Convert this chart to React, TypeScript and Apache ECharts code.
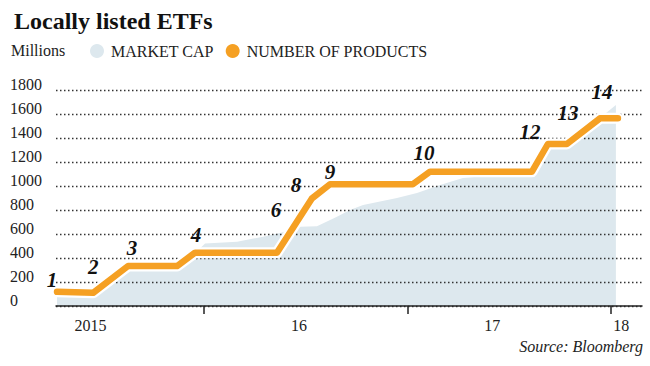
import React, { useEffect, useRef } from "react";
import * as echarts from "echarts";

// x values are months counted from January 2015
const xMin = 3.27;
const xMax = 37.83;
const yearTicks = [12, 24, 36];
const xLabelMonths = [5.3, 17.6, 29.0, 36.6];
const xLabelTexts = ["2015", "16", "17", "18"];

const yTicks = [0, 200, 400, 600, 800, 1000, 1200, 1400, 1600, 1800];

const capMonths = [3.33, 5.46, 7.52, 10.41, 11.47, 12.06, 13.95, 15.48, 16.48, 17.66, 18.66, 19.84, 20.61, 21.38, 23.38, 24.56, 25.92, 27.27, 29.28, 31.34, 32.4, 33.4, 34.35, 35.35, 36.29];
const capValues = [95, 100, 300, 320, 440, 520, 536, 578, 608, 661, 665, 744, 800, 842, 900, 942, 1008, 1067, 1092, 1105, 1317, 1328, 1467, 1567, 1675];

const productMonths = [3.33, 5.46, 7.52, 10.41, 11.47, 16.3, 18.37, 19.43, 24.32, 25.33, 31.34, 32.28, 33.4, 35.35, 36.41];
const productLevels = [118, 110, 333, 333, 444, 444, 897, 1015, 1015, 1119, 1119, 1350, 1350, 1564, 1564];

const countTexts = ["1", "2", "3", "4", "6", "8", "9", "10", "12", "13", "14"];
const countMonths = [3.04, 5.46, 7.75, 11.53, 16.25, 17.42, 19.43, 24.97, 31.22, 33.46, 35.47];
const countValues = [217, 325, 483, 592, 800, 1008, 1117, 1275, 1450, 1608, 1783];

const SERIF = "'Liberation Serif', 'DejaVu Serif', serif";
const ORANGE = "#f5a023";
const BLUE = "#dde8ee";

export default function App() {
  const ref = useRef<HTMLDivElement>(null);
  useEffect(() => {
    if (!ref.current) return;
    const chart = echarts.init(ref.current, undefined, { renderer: "svg" });
    const capData = capMonths.map((m, i) => [m, capValues[i]]);
    const productData = productMonths.map((m, i) => [m, productLevels[i]]);
    const countData = countMonths.map((m, i) => [m, countValues[i], countTexts[i]]);
    chart.setOption({
      animation: false,
      backgroundColor: "#ffffff",
      title: {
        text: "Locally listed ETFs",
        left: 9,
        top: 4,
        textStyle: { fontFamily: SERIF, fontWeight: "bold", fontSize: 24, color: "#111" },
      },
      legend: {
        left: 85,
        top: 38,
        icon: "circle",
        itemWidth: 14,
        itemHeight: 14,
        itemGap: 12,
        data: ["MARKET CAP", "NUMBER OF PRODUCTS"],
        textStyle: { fontFamily: SERIF, fontSize: 16, color: "#222", padding: [0, 0, 0, 2] },
      },
      graphic: [
        {
          type: "text",
          left: 11,
          top: 42,
          style: { text: "Millions", font: `16px ${SERIF}`, fill: "#222" },
        },
        {
          type: "text",
          right: 7,
          top: 338,
          style: { text: "Source: Bloomberg", font: `italic 16px ${SERIF}`, fill: "#222" },
        },
      ],
      grid: { left: 56, right: 8, top: 90, bottom: 60 },
      xAxis: {
        type: "value",
        min: xMin,
        max: xMax,
        z: 6,
        axisLine: { show: true, lineStyle: { color: "#222", width: 1.5 } },
        axisTick: { show: true, customValues: yearTicks, length: 8, lineStyle: { color: "#222", width: 1.5 } },
        axisLabel: {
          customValues: xLabelMonths,
          margin: 11,
          fontFamily: SERIF,
          fontSize: 16,
          color: "#222",
          formatter: (v: number) => {
            let best = 0;
            xLabelMonths.forEach((m, i) => {
              if (Math.abs(m - v) < Math.abs(xLabelMonths[best] - v)) best = i;
            });
            return xLabelTexts[best];
          },
        },
        splitLine: { show: false },
      },
      yAxis: {
        type: "value",
        min: yTicks[0],
        max: yTicks[yTicks.length - 1],
        interval: 200,
        z: 2,
        axisLine: { show: false },
        axisTick: { show: false },
        axisLabel: {
          align: "left",
          margin: 46,
          verticalAlign: "bottom",
          lineHeight: 12,
          fontFamily: SERIF,
          fontSize: 16,
          color: "#222",
          formatter: (v: number) => String(v),
        },
        splitLine: { show: true, lineStyle: { type: [1.5, 2.5], color: "#333", width: 1.3 } },
      },
      series: [
        {
          name: "MARKET CAP",
          type: "line",
          z: 1,
          data: capData,
          symbol: "none",
          color: BLUE,
          itemStyle: { color: BLUE },
          lineStyle: { width: 0, color: BLUE },
          areaStyle: { color: BLUE, opacity: 1 },
        },
        {
          name: "halo",
          type: "line",
          z: 3,
          data: productData,
          symbol: "none",
          silent: true,
          lineStyle: { width: 11, color: "#ffffff", cap: "round", join: "round" },
        },
        {
          name: "NUMBER OF PRODUCTS",
          type: "line",
          z: 4,
          data: productData,
          symbol: "none",
          color: ORANGE,
          itemStyle: { color: ORANGE },
          lineStyle: { width: 6.5, color: ORANGE, cap: "round", join: "round" },
        },
        {
          name: "counts",
          type: "scatter",
          z: 5,
          clip: false,
          symbolSize: 1,
          itemStyle: { color: "#ffffff", opacity: 1 },
          data: countData,
          label: {
            show: true,
            position: "inside",
            formatter: (p: any) => p.value[2],
            fontFamily: SERIF,
            fontStyle: "italic",
            fontWeight: "bold",
            fontSize: 21,
            color: "#111111",
            opacity: 1,
            textBorderWidth: 0,
          },
        },
      ],
    });
    return () => chart.dispose();
  }, []);
  return (
    <div
      ref={ref}
      style={{ position: "fixed", left: 0, top: 0, width: 650, height: 366, background: "#fff" }}
    />
  );
}
